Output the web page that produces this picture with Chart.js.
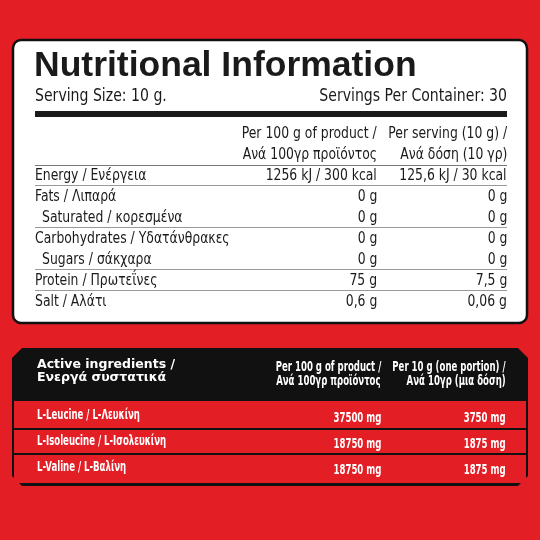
<!DOCTYPE html>
<html><head><meta charset="utf-8">
<script src="https://cdn.jsdelivr.net/npm/chart.js@4"></script>
<style>
html,body{margin:0;padding:0;width:540px;height:540px;overflow:hidden;background:#e31e25}
#wrap{position:relative;width:540px;height:540px}
canvas{position:absolute;left:0;top:0}
.t{position:absolute;white-space:nowrap;font-family:"DejaVu Sans Condensed",sans-serif;color:#1a1a1a;font-size:15px;line-height:18px;transform:scaleX(0.92)}
.w{color:#fff}
</style></head><body>
<div id="wrap"><canvas id="c" width="540" height="540"></canvas><div id="txt"></div></div>
<script>
const nutrients = ['Energy / Ενέργεια','Fats / Λιπαρά','  Saturated / κορεσμένα','Carbohydrates / Υδατάνθρακες','  Sugars / σάκχαρα','Protein / Πρωτεΐνες','Salt / Αλάτι'];
const per100 = ['1256 kJ / 300 kcal','0 g','0 g','0 g','0 g','75 g','0,6 g'];
const perServing = ['125,6 kJ / 30 kcal','0 g','0 g','0 g','0 g','7,5 g','0,06 g'];
const actives = ['L-Leucine / L-Λευκίνη','L-Isoleucine / L-Ισολευκίνη','L-Valine  / L-Βαλίνη'];
const activePer100 = ['37500 mg','18750 mg','18750 mg'];
const activePerPortion = ['3750 mg','1875 mg','1875 mg'];

const rowY = [175,196,217,238,259,280,301];
const lineAfter = [0,2,4,5];
const actY = [414,440,466];

const panels = {
  id: 'panels',
  beforeDraw(chart) {
    const ctx = chart.ctx;
    ctx.save();
    ctx.fillStyle = '#e31e25'; ctx.fillRect(0,0,540,540);
    ctx.beginPath(); ctx.roundRect(13,40,514,283,8);
    ctx.fillStyle = '#fff'; ctx.fill(); ctx.lineWidth = 2.5; ctx.strokeStyle = '#111'; ctx.stroke();
    ctx.fillStyle = '#1a1a1a'; ctx.fillRect(35,111,472,6);
    ctx.strokeStyle = '#777'; ctx.lineWidth = 1;
    ctx.beginPath(); ctx.moveTo(35,165.5); ctx.lineTo(507,165.5); ctx.stroke();
    ctx.strokeStyle = '#999';
    lineAfter.forEach(i => { const y = rowY[i] + 10.5; ctx.beginPath(); ctx.moveTo(35,y); ctx.lineTo(507,y); ctx.stroke(); });
    ctx.beginPath();
    ctx.moveTo(22,348); ctx.lineTo(518,348); ctx.lineTo(528,358); ctx.lineTo(528,476);
    ctx.lineTo(518,486); ctx.lineTo(22,486); ctx.lineTo(12,476); ctx.lineTo(12,358); ctx.closePath();
    ctx.fillStyle = '#111'; ctx.fill();
    ctx.fillStyle = '#e31e25';
    [[401,428],[430,453],[455,483]].forEach(([a,b]) => ctx.fillRect(14,a,512,b-a));
    ctx.restore();
  }
};

new Chart(document.getElementById('c'), {
  type: 'bar',
  data: { labels: [], datasets: [] },
  options: { responsive: false, animation: false, events: [],
    plugins: { legend: { display: false }, tooltip: { enabled: false } },
    scales: { x: { display: false }, y: { display: false } } },
  plugins: [panels]
});

const txt = document.getElementById('txt');
function put(s, x, y, right, cls, style) {
  const d = document.createElement('div');
  d.className = 't ' + (cls || '');
  d.textContent = s;
  if (right) d.style.right = (540 - x) + 'px'; else d.style.left = x + 'px';
  d.style.top = (y - 9) + 'px';
  d.style.transformOrigin = right ? 'right center' : 'left center';
  if (style) Object.assign(d.style, style);
  txt.appendChild(d);
}
put('Nutritional Information', 34, 65, false, '', {fontFamily:'"Liberation Sans",Arial,sans-serif',fontWeight:'bold',fontSize:'35.5px',lineHeight:'36px',top:'46px',transform:'none'});
put('Serving Size: 10 g.', 35, 95, false, '', {fontSize:'17px'});
put('Servings Per Container: 30', 507, 95, true, '', {fontSize:'17px'});
put('Per 100 g of product /', 377, 133, true);
put('Ανά 100γρ προϊόντος', 377, 154, true);
put('Per serving (10 g) /', 507, 133, true);
put('Ανά δόση (10 γρ)', 507, 154, true);
nutrients.forEach((n, i) => {
  const ind = n.startsWith('  ');
  put(n.trim(), ind ? 42 : 35, rowY[i]);
  put(per100[i], 377, rowY[i], true);
  put(perServing[i], 507, rowY[i], true);
});
const hd = {fontFamily:'"DejaVu Sans",sans-serif',fontWeight:'bold',fontSize:'12.5px',lineHeight:'13px',transform:'none'};
put('Active ingredients /', 37, 366, false, 'w', hd);
put('Ενεργά συστατικά', 37, 379, false, 'w', hd);
const sm = {fontSize:'14px',fontWeight:'bold',transform:'scaleX(0.68)'};
put('Per 100 g of product /', 381, 366, true, 'w', sm);
put('Ανά 100γρ προϊόντος', 381, 380, true, 'w', sm);
put('Per 10 g (one portion) /', 506, 366, true, 'w', sm);
put('Ανά 10γρ (μια δόση)', 506, 380, true, 'w', sm);
actives.forEach((a, i) => {
  put(a, 37, actY[i], false, 'w', sm);
  put(activePer100[i], 381, actY[i] + 3, true, 'w', sm);
  put(activePerPortion[i], 506, actY[i] + 3, true, 'w', sm);
});
</script>
</body></html>
